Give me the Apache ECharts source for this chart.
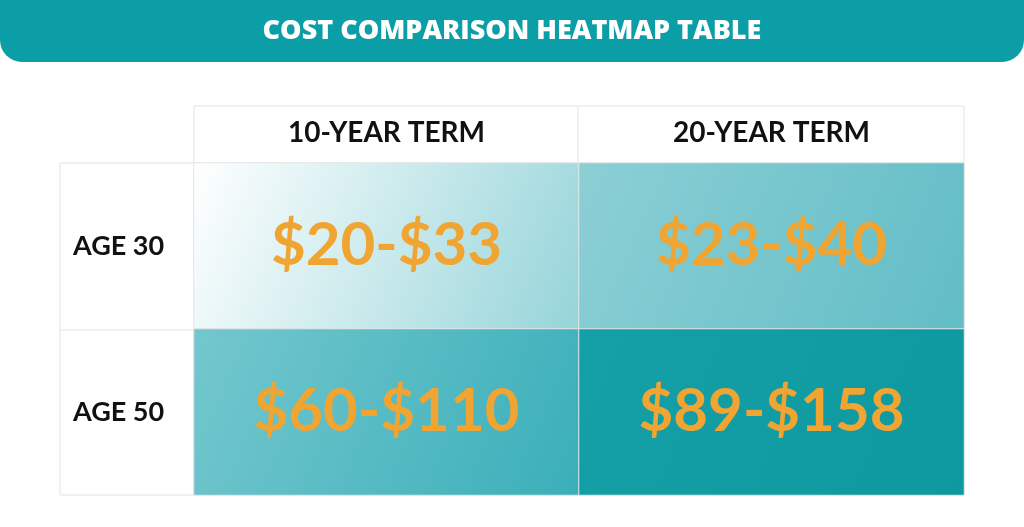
<!DOCTYPE html><html><head><meta charset="utf-8"><script src="https://cdn.jsdelivr.net/npm/echarts@6/dist/echarts.min.js"></script>
<style>html,body{margin:0;padding:0;background:#fff}#c{width:1024px;height:527px}</style></head><body><div id="c"></div><script>
const terms=['10-YEAR TERM','20-YEAR TERM'];
const ages=['AGE 30','AGE 50'];
const lowCost=[[20,23],[60,89]];
const highCost=[[33,40],[110,158]];
const cellColors=[[['#ffffff','#95d4d9'],['#8ccfd5','#62bdc6']],[['#74c7ce','#3aafb9'],['#15a0a8','#0e989f']]];
const chart=echarts.init(document.getElementById('c'));
const data=[];
ages.forEach((a,r)=>terms.forEach((t,c)=>{
  data.push({value:[c,r,lowCost[r][c]],label:{formatter:'$'+lowCost[r][c]+'-$'+highCost[r][c]},
   itemStyle:{color:new echarts.graphic.LinearGradient(0,0,1,1,[{offset:0,color:cellColors[r][c][0]},{offset:1,color:cellColors[r][c][1]}]),borderColor:'#e6e6e6',borderWidth:1}});
}));
chart.setOption({
 animation:false,
 graphic:[
  {type:'rect',shape:{x:0,y:-20,width:1024,height:82,r:22},style:{fill:'#0b9ea7'}},
  {type:'text',x:512,y:31,style:{text:'COST COMPARISON HEATMAP TABLE',fill:'#fff',font:'900 27px "Open Sans", sans-serif',align:'center',verticalAlign:'middle'}},
  {type:'rect',shape:{x:194,y:106,width:770,height:57},style:{fill:'none',stroke:'#e3e3e3',lineWidth:1}},
  {type:'line',shape:{x1:578,y1:106,x2:578,y2:163},style:{stroke:'#e3e3e3'}},
  {type:'rect',shape:{x:60,y:163,width:134,height:332},style:{fill:'none',stroke:'#e3e3e3',lineWidth:1}},
  {type:'line',shape:{x1:60,y1:330,x2:194,y2:330},style:{stroke:'#e3e3e3'}}
 ],
 grid:{left:194,right:60,top:163,bottom:32},
 xAxis:{type:'category',data:terms,position:'top',axisLine:{show:false},axisTick:{show:false},axisLabel:{margin:16,color:'#111',fontSize:28,fontWeight:'bold',fontFamily:'Lato'}},
 yAxis:{type:'category',data:ages,inverse:true,axisLine:{show:false},axisTick:{show:false},axisLabel:{margin:121,align:'left',color:'#111',fontSize:27,fontWeight:'bold',fontFamily:'Lato'}},
 series:[{type:'heatmap',data:data,label:{show:true,color:'#f0a431',fontSize:60,fontWeight:'bold',fontFamily:'Lato'}}]
});
</script></body></html>
